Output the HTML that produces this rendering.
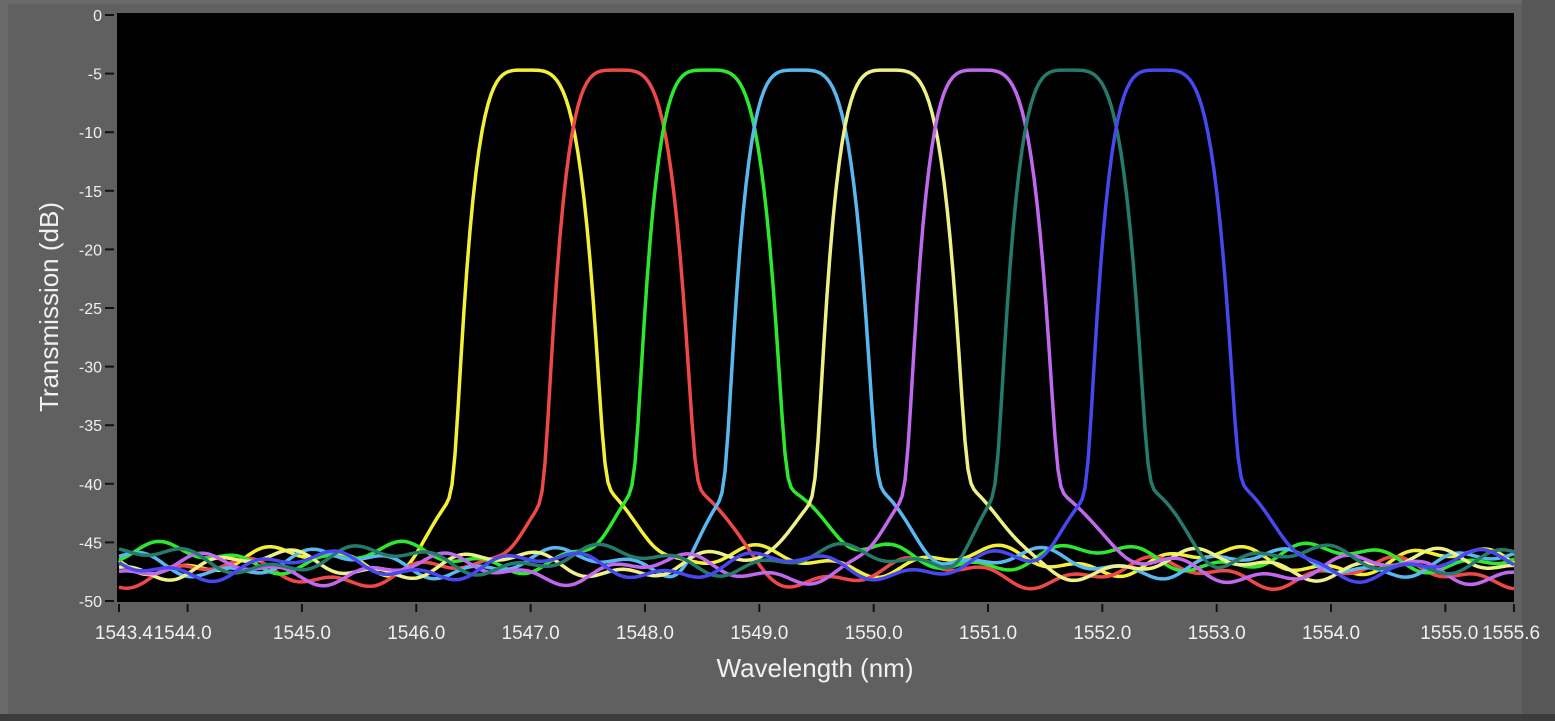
<!DOCTYPE html>
<html><head><meta charset="utf-8"><style>
html,body{margin:0;padding:0;background:#606060;}
svg{display:block;font-family:"Liberation Sans",sans-serif;}
</style></head><body>
<svg id="s" width="1555" height="721" xmlns="http://www.w3.org/2000/svg">
<rect x="0" y="0" width="1555" height="721" fill="#606060"/>
<rect x="0" y="0" width="1555" height="4" fill="#6a6a6a"/>
<rect x="0" y="0" width="8" height="721" fill="#6a6a6a"/>
<rect x="1522" y="0" width="33" height="721" fill="#575757"/>
<rect x="0" y="714" width="1555" height="7" fill="#3c3c3c"/>
<rect x="117" y="13" width="1397" height="589" fill="#000"/>
<g id="ticks" stroke="#111" stroke-width="2"></g>
<g id="lab" fill="#f0f0f0"></g>
<g id="series" fill="none" stroke-width="3.5" stroke-linejoin="round"></g>
<text x="815" y="677" font-size="26" fill="#f0f0f0" text-anchor="middle">Wavelength (nm)</text>
<text transform="translate(58,307) rotate(-90)" font-size="26" fill="#f0f0f0" text-anchor="middle">Transmission (dB)</text>
</svg>
<script>
var NS="http://www.w3.org/2000/svg";
function el(t,a,p,txt){var e=document.createElementNS(NS,t);for(var k in a)e.setAttribute(k,a[k]);if(txt!=null)e.textContent=txt;p.appendChild(e);return e;}
var ticks=document.getElementById('ticks'),lab=document.getElementById('lab'),ser=document.getElementById('series');
function Y(db){return 15+(-db)*11.72;}
function X(nm){return 119+(nm-1543.4)*114.34;}
for(var d=0;d>=-50;d-=5){var y=Y(d);el('line',{x1:105,y1:y,x2:114,y2:y},ticks);el('text',{x:102,y:y+6,'font-size':16,'text-anchor':'end'},lab,String(d));}
var xt=[1543.4,1544,1545,1546,1547,1548,1549,1550,1551,1552,1553,1554,1555,1555.6];
xt.forEach(function(v){var x=X(v);el('line',{x1:x,y1:604,x2:x,y2:612},ticks);
var anc='middle';if(v==1543.4)anc='end';if(v==1544)anc='start';if(v==1555)anc='end';if(v==1555.6)anc='start';
var xx=x;if(v==1543.4)xx=x+34;if(v==1544)xx=x-34;if(v==1555)xx=x+33;if(v==1555.6)xx=x-32;
el('text',{x:xx,y:639,'font-size':19,'text-anchor':anc},lab,v.toFixed(1));});
var cols=['#f4f03a','#ee4848','#2ee82e','#5ab8f0','#eef088','#c068ee','#267a6c','#4848f0'];
var floors=[-46.6,-47.6,-46.3,-46.8,-46.9,-47.3,-46.5,-47.0];
for(var i=0;i<8;i++){
 var c=526+90.5*i,pts=[];
 for(var x=119;x<=1514;x+=3){
  var dd=x-c,a=Math.abs(dd);
  var fl=floors[i]+0.9*Math.sin(x/37+i*1.7)+0.5*Math.sin(x/13+i);
  var lin=Math.pow(10,-0.47)*Math.exp(-Math.pow(a/(dd<0?42:46),4))+Math.pow(10,-4.0)*Math.exp(-Math.pow(a/(dd<0?85:105),4))+Math.pow(10,fl/10);
  var db=10*Math.log10(lin);
  pts.push(x.toFixed(0)+','+Y(db).toFixed(1));
 }
 el('polyline',{points:pts.join(' '),stroke:cols[i]},ser);
}
</script>
</body></html>
